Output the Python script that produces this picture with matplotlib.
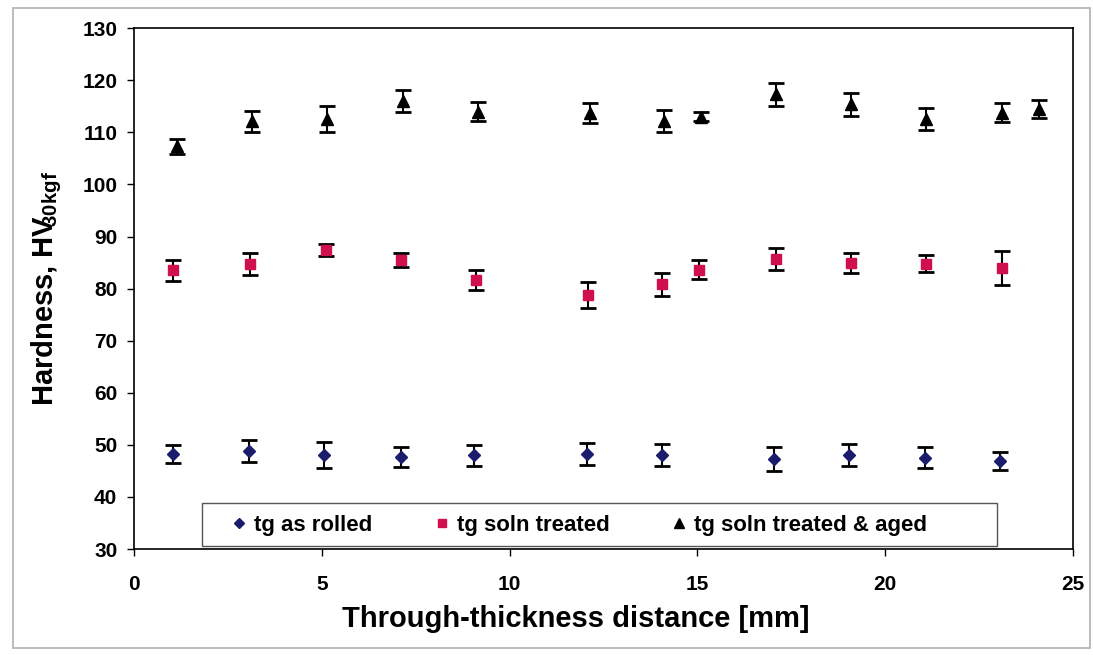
import matplotlib.pyplot as plt
from matplotlib.lines import Line2D
from matplotlib.patches import Rectangle

plt.rcParams['font.family'] = ['Liberation Sans', 'DejaVu Sans']
plt.rcParams['font.weight'] = 'bold'
plt.rcParams['mathtext.fontset'] = 'custom'
plt.rcParams['mathtext.bf'] = 'Liberation Sans:bold'
plt.rcParams['mathtext.rm'] = 'Liberation Sans:bold'

# ---- data ----
x_rolled = [1.05, 3.05, 5.05, 7.1, 9.05, 12.05, 14.05, 17.05, 19.05, 21.05, 23.05]
hv_rolled = [48.3, 48.9, 48.1, 47.6, 48.0, 48.3, 48.1, 47.2, 48.1, 47.5, 46.9]
err_rolled = [1.7, 2.1, 2.5, 1.9, 2.0, 2.1, 2.1, 2.3, 2.1, 2.0, 1.8]

x_soln = [1.05, 3.1, 5.1, 7.1, 9.1, 12.1, 14.05, 15.05, 17.1, 19.1, 21.1, 23.1]
hv_soln = [83.5, 84.7, 87.4, 85.5, 81.7, 78.7, 80.8, 83.6, 85.6, 84.9, 84.8, 84.0]
err_soln = [2.0, 2.1, 1.1, 1.4, 1.9, 2.5, 2.2, 1.8, 2.1, 2.0, 1.6, 3.3]

x_aged = [1.15, 3.15, 5.15, 7.15, 9.15, 12.15, 14.1, 15.1, 17.1, 19.1, 21.1, 23.1, 24.1]
hv_aged = [107.3, 112.1, 112.5, 116.0, 114.0, 113.7, 112.1, 113.0, 117.3, 115.4, 112.5, 113.8, 114.5]
err_aged = [1.5, 2.0, 2.5, 2.1, 1.9, 2.0, 2.1, 0.9, 2.2, 2.2, 2.1, 1.8, 1.8]

labels = ["tg as rolled", "tg soln treated", "tg soln treated & aged"]

fig = plt.figure(figsize=(10.93, 6.55), dpi=100)
ax = fig.add_axes([0.1226, 0.1618, 0.859, 0.7952])

# outer frame of the picture
fig.patches.append(Rectangle((0.012, 0.011), 0.985, 0.977, transform=fig.transFigure,
                             fill=False, edgecolor='#b0b0b0', linewidth=1.2))

series = [
    (x_rolled, hv_rolled, err_rolled, 'D', '#1c1c6c', 6.5),
    (x_soln, hv_soln, err_soln, 's', '#d0104c', 7.5),
    (x_aged, hv_aged, err_aged, '^', 'black', 9),
]
handles = []
for (xs, ys, es, mk, col, ms), lab in zip(series, labels):
    ax.errorbar(xs, ys, yerr=es, fmt='none', ecolor='black', elinewidth=1.5,
                capsize=6, capthick=2, zorder=2)
    ax.plot(xs, ys, linestyle='none', marker=mk, color=col, markersize=ms, zorder=3)
    handles.append(Line2D([], [], linestyle='none', marker=mk, color=col,
                          markersize=ms * 0.75, label=lab))

ax.set_xlim(0, 25)
ax.set_ylim(30, 130)
ax.set_xticks(range(0, 26, 5))
ax.set_yticks(range(30, 131, 10))
ax.tick_params(direction='out', length=5, width=1, labelsize=15)
ax.tick_params(axis='x', pad=14)
ax.tick_params(axis='y', pad=7)
for lab in ax.get_xticklabels() + ax.get_yticklabels():
    lab.set_fontweight('bold')
for sp in ax.spines.values():
    sp.set_linewidth(1.2)

ax.set_xlabel("Through-thickness distance [mm]", fontsize=21, fontweight='bold')
ax.xaxis.set_label_coords(0.47, -0.107)
ax.set_ylabel(r"Hardness, HV$\!\!_{\mathbf{30kgf}}$", fontsize=21, fontweight='bold', labelpad=13)

# legend box (Excel style), entries placed inside it
ax.add_patch(Rectangle((0.0724, 0.0058), 0.8466, 0.0825, transform=ax.transAxes,
                       facecolor='white', edgecolor='#555555', linewidth=1.0, zorder=4))
leg = ax.legend(handles=handles, loc='center left', bbox_to_anchor=(0.104, 0.046),
                ncol=3, frameon=False, prop={'weight': 'bold', 'size': 16},
                handlelength=0.7, handletextpad=0.3, borderaxespad=0, borderpad=0,
                columnspacing=2.8)
leg.set_zorder(5)

fig.savefig("out.png", dpi=100)
